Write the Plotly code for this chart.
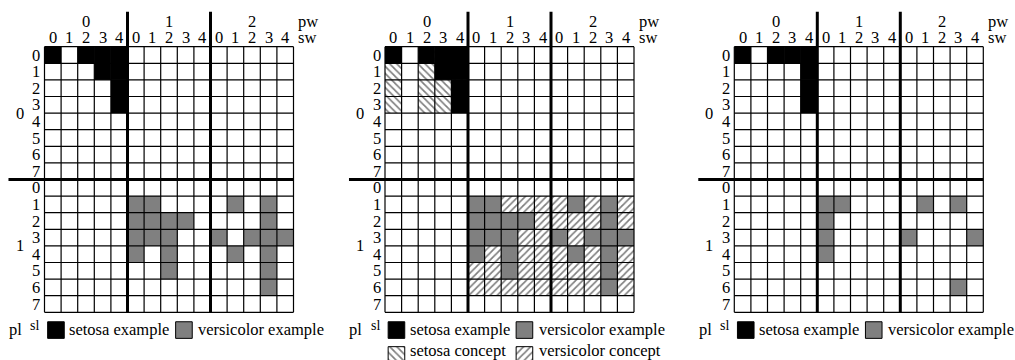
import plotly.graph_objects as go

# ---------------- data ----------------
# each cell is (pl, sl, pw, sw)
pl_labels = ["0", "1"]
sl_labels = ["0", "1", "2", "3", "4", "5", "6", "7"]
pw_labels = ["0", "1", "2"]
sw_labels = ["0", "1", "2", "3", "4"]

panel_a_setosa = [(0, 0, 0, 0), (0, 0, 0, 2), (0, 0, 0, 3), (0, 0, 0, 4),
                  (0, 1, 0, 3), (0, 1, 0, 4), (0, 2, 0, 4), (0, 3, 0, 4)]
panel_a_versicolor = [(1, 1, 1, 0), (1, 1, 1, 1), (1, 1, 2, 1), (1, 1, 2, 3),
                      (1, 2, 1, 0), (1, 2, 1, 1), (1, 2, 1, 2), (1, 2, 1, 3), (1, 2, 2, 3),
                      (1, 3, 1, 0), (1, 3, 1, 1), (1, 3, 1, 2), (1, 3, 2, 0), (1, 3, 2, 2),
                      (1, 3, 2, 3), (1, 3, 2, 4),
                      (1, 4, 1, 0), (1, 4, 1, 2), (1, 4, 2, 1), (1, 4, 2, 3),
                      (1, 5, 1, 2), (1, 5, 2, 3),
                      (1, 6, 2, 3)]

panel_b_setosa = list(panel_a_setosa)
panel_b_versicolor = list(panel_a_versicolor)
panel_b_setosa_concept = [(0, sl, 0, sw) for sl in [0, 1, 2, 3] for sw in [0, 2, 3, 4]]
panel_b_versicolor_concept = [(1, sl, pw, sw) for sl in [1, 2, 3, 4, 5, 6]
                              for pw in [1, 2] for sw in [0, 1, 2, 3, 4]]

panel_c_setosa = [(0, 0, 0, 0), (0, 0, 0, 2), (0, 0, 0, 3), (0, 0, 0, 4),
                  (0, 1, 0, 4), (0, 2, 0, 4), (0, 3, 0, 4)]
panel_c_versicolor = [(1, 1, 1, 0), (1, 1, 1, 1), (1, 1, 2, 1), (1, 1, 2, 3),
                      (1, 2, 1, 0), (1, 3, 1, 0), (1, 3, 2, 0), (1, 3, 2, 4),
                      (1, 4, 1, 0), (1, 6, 2, 3)]

legend_example = ["setosa example", "versicolor example"]
legend_concept = ["setosa concept", "versicolor concept"]

# ---------------- layout constants ----------------
W, H = 1015, 360
CELL = 16.6
GRID_TOP = 46.7
PANEL_LEFT = [44.5, 385.0, 734.3]
PANEL_BOUNDS = [(0, 338), (340, 692), (694, 1015)]
FONT = "'Liberation Serif', 'Times New Roman', Times, 'DejaVu Serif', serif"
FS = 16.5
BLACK = "#000000"
GRAY = "#808080"
NCOL = len(pw_labels) * len(sw_labels)
NROW = len(pl_labels) * len(sl_labels)
HATCH = dict(fgcolor=BLACK, bgcolor="white", size=5, solidity=0.34)

fig = go.Figure()
shapes = []
annotations = []


def cols_rows(cells):
    xs = [pw * len(sw_labels) + sw + 0.5 for (pl, sl, pw, sw) in cells]
    bs = [pl * len(sl_labels) + sl for (pl, sl, pw, sw) in cells]
    return xs, bs


def ax(k):
    return ("x" if k == 1 else f"x{k}"), ("y" if k == 1 else f"y{k}")


def add_cells(cells, k, color, pattern=None, line_w=0):
    xs, bs = cols_rows(cells)
    marker = dict(color=color, line=dict(width=line_w, color=BLACK))
    if pattern:
        marker["pattern"] = dict(shape=pattern, **HATCH)
    xa, ya = ax(k)
    fig.add_trace(go.Bar(x=xs, y=[1] * len(xs), base=bs, width=[1] * len(xs),
                         marker=marker, showlegend=False, hoverinfo="skip",
                         xaxis=xa, yaxis=ya))


def add_swatch(k, xc, base, color, pattern=None):
    marker = dict(color=color, line=dict(width=1, color=BLACK))
    if pattern:
        marker["pattern"] = dict(shape=pattern, **HATCH)
    xa, ya = ax(k)
    fig.add_trace(go.Bar(x=[xc], y=[1], base=[base], width=[1], marker=marker,
                         showlegend=False, hoverinfo="skip", xaxis=xa, yaxis=ya))


panels = [
    dict(setosa=panel_a_setosa, versicolor=panel_a_versicolor),
    dict(setosa=panel_b_setosa, versicolor=panel_b_versicolor,
         setosa_concept=panel_b_setosa_concept,
         versicolor_concept=panel_b_versicolor_concept),
    dict(setosa=panel_c_setosa, versicolor=panel_c_versicolor),
]

for i, p in enumerate(panels):
    k = i + 1
    xr, yr = ax(k)
    if "setosa_concept" in p:
        add_cells(p["setosa_concept"], k, "white", "\\")
        add_cells(p["versicolor_concept"], k, "white", "/")
    add_cells(p["setosa"], k, BLACK)
    add_cells(p["versicolor"], k, GRAY)

    # thin grid
    for r in range(NROW + 1):
        if r == len(sl_labels):
            continue
        shapes.append(dict(type="line", xref=xr, yref=yr, x0=0, x1=NCOL, y0=r, y1=r,
                           line=dict(color=BLACK, width=1.2), layer="above"))
    for c in range(NCOL + 1):
        if c % len(sw_labels) == 0 and 0 < c < NCOL:
            continue
        shapes.append(dict(type="line", xref=xr, yref=yr, x0=c, x1=c, y0=0, y1=NROW,
                           line=dict(color=BLACK, width=1.2), layer="above"))
    # thick separators
    for j in range(1, len(pw_labels)):
        c = j * len(sw_labels)
        shapes.append(dict(type="line", xref=xr, yref=yr, x0=c, x1=c, y0=-2.1, y1=NROW,
                           line=dict(color=BLACK, width=3), layer="above"))
    shapes.append(dict(type="line", xref=xr, yref=yr, x0=-2.17, x1=NCOL,
                       y0=len(sl_labels), y1=len(sl_labels),
                       line=dict(color=BLACK, width=3), layer="above"))

    def txt(x, y, t, anchor="center", size=FS):
        annotations.append(dict(xref=xr, yref=yr, x=x, y=y, text=t, showarrow=False,
                                xanchor=anchor, yanchor="middle", borderpad=0,
                                borderwidth=0,
                                font=dict(family=FONT, size=size, color=BLACK)))

    for j, lab in enumerate(pw_labels):
        txt(j * len(sw_labels) + len(sw_labels) / 2, -1.49, lab)
        for s, slab in enumerate(sw_labels):
            txt(j * len(sw_labels) + s + 0.5, -0.55, slab)
    txt(NCOL + 0.3, -1.49, "pw", "left")
    txt(NCOL + 0.3, -0.55, "sw", "left")
    for j, lab in enumerate(pl_labels):
        txt(-1.5, j * len(sl_labels) + len(sl_labels) / 2, lab)
        for s, slab in enumerate(sl_labels):
            txt(-0.25, j * len(sl_labels) + s + 0.5, slab, "right")

    # legend
    txt(-1.75, 17.03, "pl")
    txt(-0.6, 16.82, "sl", size=14)
    add_swatch(k, 0.69, 16.57, BLACK)
    txt(1.48, 17.03, legend_example[0], "left")
    add_swatch(k, 8.4, 16.57, GRAY)
    txt(9.25, 17.03, legend_example[1], "left")
    if "setosa_concept" in p:
        add_swatch(k, 0.69, 18.07, "white", "\\")
        txt(1.48, 18.3, legend_concept[0], "left")
        add_swatch(k, 8.4, 18.07, "white", "/")
        txt(9.25, 18.3, legend_concept[1], "left")

layout_axes = {}
for i in range(3):
    k = i + 1
    L, R = PANEL_BOUNDS[i]
    x0 = PANEL_LEFT[i]
    xname = "xaxis" if k == 1 else f"xaxis{k}"
    yname = "yaxis" if k == 1 else f"yaxis{k}"
    layout_axes[xname] = dict(domain=[L / W, R / W],
                              range=[(L - x0) / CELL, (R - x0) / CELL],
                              visible=False, showgrid=False, zeroline=False,
                              fixedrange=True, anchor="y" if k == 1 else f"y{k}")
    layout_axes[yname] = dict(domain=[0, 1],
                              range=[(H - GRID_TOP) / CELL, -GRID_TOP / CELL],
                              visible=False, showgrid=False, zeroline=False,
                              fixedrange=True, anchor="x" if k == 1 else f"x{k}")

fig.update_layout(width=W, height=H, margin=dict(l=0, r=0, t=0, b=0, pad=0),
                  paper_bgcolor="white", plot_bgcolor="white",
                  barmode="overlay", showlegend=False,
                  font=dict(family=FONT),
                  shapes=shapes, annotations=annotations, **layout_axes)

fig.write_html("out.html", config={"displayModeBar": False},
               post_script="document.body.style.margin='0';document.body.style.overflow='hidden';")
